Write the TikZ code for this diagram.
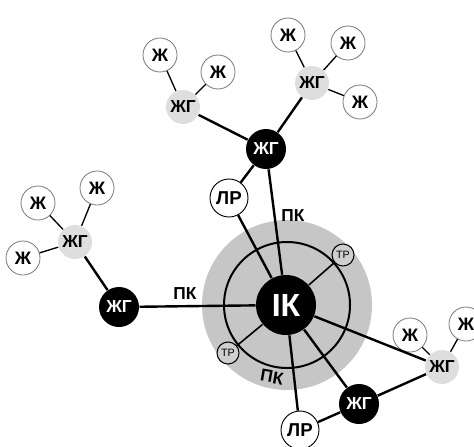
\documentclass[tikz,border=0pt]{standalone}
\usepackage{fontspec}
\setmainfont{Liberation Sans}
\definecolor{diskgrey}{RGB}{198,198,198}
\definecolor{hubgrey}{RGB}{222,222,222}
\definecolor{rimgrey}{RGB}{120,120,120}
\tikzset{every picture/.style={line width=0.75pt}}
\tikzset{
  zh/.style={circle, draw=rimgrey, fill=white, line width=0.6pt, minimum size=25.5pt, inner sep=0pt, font=\bfseries\fontsize{13.5}{14}\selectfont},
  zhglight/.style={circle, fill=hubgrey, minimum size=25.5pt, inner sep=0pt, font=\bfseries\fontsize{13}{14}\selectfont},
  zhgdark/.style={circle, fill=black, text=white, minimum size=30pt, inner sep=0pt, font=\bfseries\fontsize{13}{14}\selectfont},
  lr/.style={circle, draw, fill=white, line width=0.7pt, minimum size=28.5pt, inner sep=0pt, font=\bfseries\fontsize{14}{14}\selectfont},
  trnode/.style={circle, draw, fill=diskgrey!85!white, line width=0.8pt, minimum size=16.5pt, inner sep=0pt, font=\fontsize{8}{8}\selectfont},
  pklabel/.style={inner sep=0.75pt, font=\bfseries\fontsize{13}{14}\selectfont},
  link/.style={line width=1.8pt},
  twig/.style={line width=1pt},
}
\begin{document}
\begin{tikzpicture}[x=0.75pt,y=0.75pt,yscale=-1,xscale=1]
\useasboundingbox (0,0) rectangle (474,446);

%Shape: grey disk and ring
\fill [diskgrey] (287,305) circle (85);
\draw [line width=1.5pt] (287,305) circle (63);

% centre
\node [circle, fill=black, text=white, minimum size=45pt, inner sep=0pt, font=\bfseries\fontsize{24}{24}\selectfont] (ik) at (286,305) {ІК};
\node [trnode] (tr1) at (343,255) {ТР};
\node [trnode] (tr2) at (228,353) {ТР};

% upper branch
\node [zhgdark] (hubn) at (266,149) {ЖГ};
\node [lr] (lrn) at (229,198) {ЛР};
\node [zhglight] (gnw) at (183,107) {ЖГ};
\node [zhglight] (gne) at (312,83) {ЖГ};
\node [zh] (a1) at (160,55) {Ж};
\node [zh] (a2) at (218,72) {Ж};
\node [zh] (b1) at (288,35) {Ж};
\node [zh] (b2) at (348,43) {Ж};
\node [zh] (b3) at (360,102) {Ж};

% left branch
\node [zhgdark] (hubw) at (119,307) {ЖГ};
\node [zhglight] (gw) at (75,242) {ЖГ};
\node [zh] (c1) at (38,203) {Ж};
\node [zh] (c2) at (97,188) {Ж};
\node [zh] (c3) at (23,258) {Ж};

% lower branch
\node [zhgdark] (hubs) at (359,404) {ЖГ};
\node [lr] (lrs) at (300,430) {ЛР};
\node [zhglight] (gse) at (442,367) {ЖГ};
\node [zh] (d1) at (410,335) {Ж};
\node [zh] (d2) at (466,324) {Ж};

% connectors
\draw [link] (ik) -- (hubn);
\draw [link] (ik) -- (lrn);
\draw [link] (lrn) -- (hubn);
\draw [link] (hubn) -- (gnw);
\draw [link] (hubn) -- (gne);
\draw [link] (ik) -- (hubw);
\draw [link] (hubw) -- (gw);
\draw [link] (ik) -- (lrs);
\draw [link] (lrs) -- (hubs);
\draw [link] (ik) -- (hubs);
\draw [link] (ik) -- (gse);
\draw [link] (hubs) -- (gse);
\draw [line width=1.2pt] (tr1) -- (ik);
\draw [line width=1.2pt] (tr2) -- (ik);
\draw [twig] (gnw) -- (a1);
\draw [twig] (gnw) -- (a2);
\draw [twig] (gne) -- (b1);
\draw [twig] (gne) -- (b2);
\draw [twig] (gne) -- (b3);
\draw [twig] (gw) -- (c1);
\draw [twig] (gw) -- (c2);
\draw [twig] (gw) -- (c3);
\draw [twig] (gse) -- (d1);
\draw [twig] (gse) -- (d2);

% Text Node
\node [pklabel] (pk1) at (293,216) {ПК};
\node [pklabel] (pk2) at (185,294) {ПК};
\node [pklabel, rotate=-10] (pk3) at (272,377) {ПК};
\end{tikzpicture}
\end{document}
